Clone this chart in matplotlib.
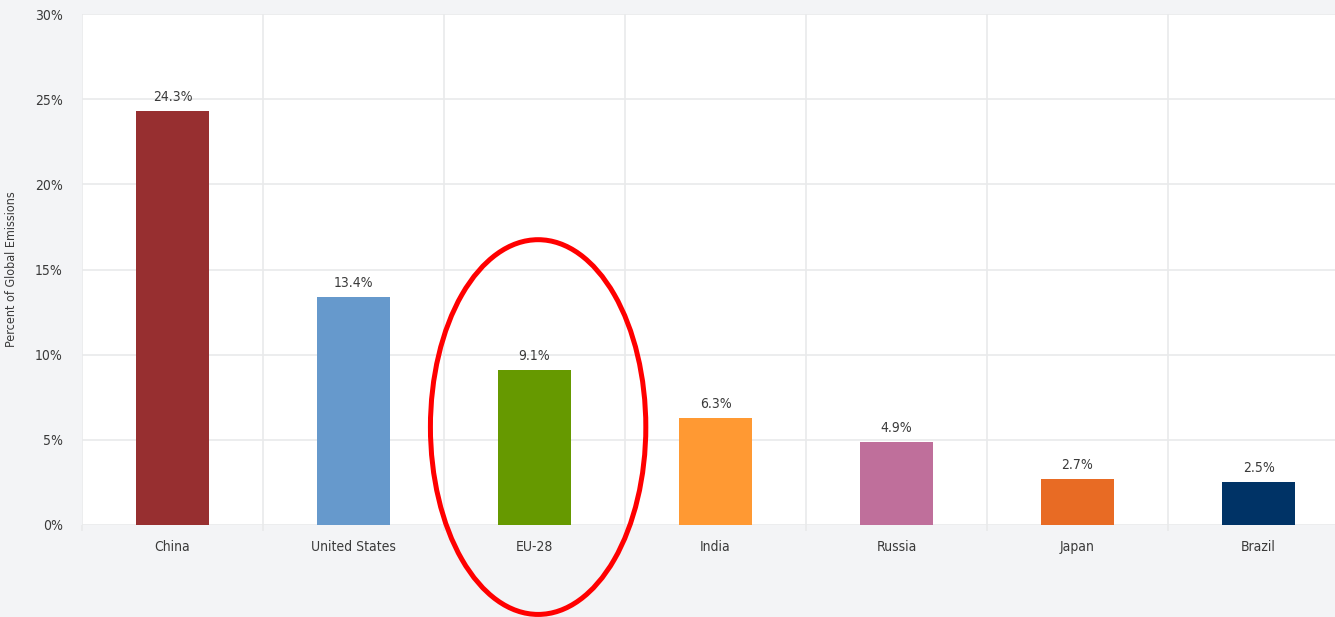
import numpy as np
import matplotlib
matplotlib.use("Agg")
import matplotlib.pyplot as plt
from matplotlib.patches import Ellipse
from matplotlib.ticker import FixedLocator, PercentFormatter

#%% Data
countries = ["China", "United States", "EU-28", "India", "Russia", "Japan", "Brazil"]
share = [24.3, 13.4, 9.1, 6.3, 4.9, 2.7, 2.5]
colors = ["#972f30", "#6699cc", "#669900", "#ff9933", "#bf6f9b", "#e86b24", "#003366"]
y_ticks = [0, 5, 10, 15, 20, 25, 30]
highlight = "EU-28"

#%% Style
plt.rcParams["font.family"] = ["DejaVu Sans"]
plt.rcParams["font.stretch"] = "condensed"
BG = "#f3f4f6"
GRID = "#e9eaeb"
TXT = "#3a3a3a"

fig = plt.figure(figsize=(13.35, 6.17), dpi=100, facecolor=BG)
ax = fig.add_axes([82 / 1335, 92 / 617, 1267 / 1335, 511 / 617])
ax.set_facecolor("white")

x = np.arange(len(countries))
bars = ax.bar(x, share, width=0.4, color=colors, zorder=3)

for xi, v in zip(x, share):
    ax.annotate(f"{v}%", (xi, v), xytext=(0, 5), textcoords="offset points",
                ha="center", va="bottom", fontsize=10, color=TXT)

# axes formatting
ax.set_xlim(-0.5, len(countries) - 0.5)
ax.set_ylim(0, 30)
ax.set_yticks(y_ticks)
ax.yaxis.set_major_formatter(PercentFormatter(decimals=0))
ax.set_xticks(x)
ax.set_xticklabels(countries)
ax.xaxis.set_minor_locator(FixedLocator(np.arange(-0.5, len(countries), 1.0)))

ax.tick_params(axis="both", which="major", length=0, labelsize=10, labelcolor=TXT)
ax.tick_params(axis="y", pad=14)
ax.tick_params(axis="x", pad=11)
ax.tick_params(axis="x", which="minor", length=4, width=1.2, color=GRID)

ax.grid(axis="y", which="major", color=GRID, lw=1.2, zorder=0)
ax.grid(axis="x", which="minor", color=GRID, lw=1.2, zorder=0)
for s in ax.spines.values():
    s.set_visible(False)

ax.set_ylabel("Percent of Global Emissions", fontsize=9, color=TXT)
ax.yaxis.set_label_coords(-64 / 1267, 0.5)

# red highlight ring
hi = countries.index(highlight)
ax.add_patch(Ellipse((hi + 0.02, 5.75), width=1.19, height=22, fill=False,
                     edgecolor="red", lw=3.6, clip_on=False, zorder=5))

fig.savefig("out.png", dpi=100, facecolor=BG)
